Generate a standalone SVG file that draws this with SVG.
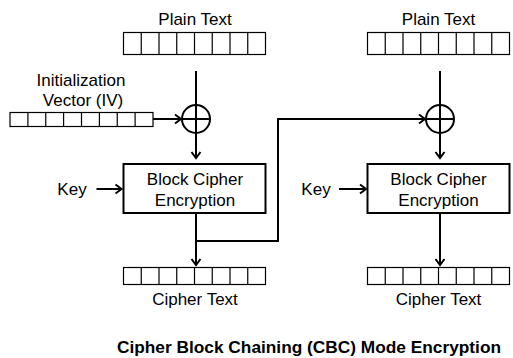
<svg xmlns="http://www.w3.org/2000/svg" width="513" height="358" viewBox="0 0 513 358">
<defs>
<style>
text{font-family:"Liberation Sans",Arial,sans-serif;font-size:17px;fill:#000;text-anchor:middle}
.title{font-weight:bold;font-size:17.3px}
.cell{fill:#fff;stroke:#000;stroke-width:1.2}
.box{fill:#fff;stroke:#000;stroke-width:2}
.wire{fill:none;stroke:#000;stroke-width:2}
</style>
<marker id="arr" markerUnits="userSpaceOnUse" markerWidth="12" markerHeight="12" viewBox="-8 -6 10 12" refX="0" refY="0" orient="auto">
<path d="M-6,-4.5 L0,0 L-6,4.5" fill="none" stroke="#000" stroke-width="2"/>
</marker>
</defs>
<rect width="513" height="358" fill="#fff"/>

<g id="pt1">
<text x="195" y="25">Plain Text</text>
<g transform="translate(123.5,32.5)">
<rect class="cell" x="0" y="0" width="142" height="22"/>
<path d="M17.75,0v22M35.5,0v22M53.25,0v22M71,0v22M88.75,0v22M106.5,0v22M124.25,0v22" stroke="#000" stroke-width="1.2"/>
</g>
</g>

<g id="pt2">
<text x="438.5" y="25">Plain Text</text>
<g transform="translate(367.5,32.5)">
<rect class="cell" x="0" y="0" width="142" height="22"/>
<path d="M17.75,0v22M35.5,0v22M53.25,0v22M71,0v22M88.75,0v22M106.5,0v22M124.25,0v22" stroke="#000" stroke-width="1.2"/>
</g>
</g>

<g id="iv">
<text x="81" y="86">Initialization</text>
<text x="83" y="106">Vector (IV)</text>
<g transform="translate(10,112.5)">
<rect class="cell" x="0" y="0" width="143" height="14"/>
<path d="M17.9,0v14M35.75,0v14M53.6,0v14M71.5,0v14M89.4,0v14M107.25,0v14M125.1,0v14" stroke="#000" stroke-width="1.2"/>
</g>
</g>

<g id="xor1">
<circle class="wire" cx="196" cy="119" r="14"/>
</g>
<g id="xor2">
<circle class="wire" cx="440" cy="119" r="14"/>
</g>

<g id="enc1">
<rect class="box" x="123.5" y="164" width="142" height="49"/>
<text x="195" y="185">Block Cipher</text>
<text x="195" y="205.5">Encryption</text>
</g>
<g id="enc2">
<rect class="box" x="367.5" y="164" width="142" height="49"/>
<text x="438.5" y="185">Block Cipher</text>
<text x="438.5" y="205.5">Encryption</text>
</g>

<g id="key1"><text x="72" y="195">Key</text></g>
<g id="key2"><text x="316" y="195">Key</text></g>

<g id="ct1">
<g transform="translate(123.5,267.5)">
<rect class="cell" x="0" y="0" width="142" height="17"/>
<path d="M17.75,0v17M35.5,0v17M53.25,0v17M71,0v17M88.75,0v17M106.5,0v17M124.25,0v17" stroke="#000" stroke-width="1.2"/>
</g>
<text x="195" y="305">Cipher Text</text>
</g>
<g id="ct2">
<g transform="translate(367.5,267.5)">
<rect class="cell" x="0" y="0" width="142" height="17"/>
<path d="M17.75,0v17M35.5,0v17M53.25,0v17M71,0v17M88.75,0v17M106.5,0v17M124.25,0v17" stroke="#000" stroke-width="1.2"/>
</g>
<text x="438.5" y="305">Cipher Text</text>
</g>

<g id="connectors">
<path class="wire" d="M196,71 V158" marker-end="url(#arr)"/>
<path class="wire" d="M182,119 H210"/>
<path class="wire" d="M153,119 H181" marker-end="url(#arr)"/>
<path class="wire" d="M440,71 V158" marker-end="url(#arr)"/>
<path class="wire" d="M426,119 H454"/>
<path class="wire" d="M96.5,189 H121.5" marker-end="url(#arr)"/>
<path class="wire" d="M339,189 H366" marker-end="url(#arr)"/>
<path class="wire" d="M196,213 V265" marker-end="url(#arr)"/>
<path class="wire" d="M196,241 H278 V119 H425" marker-end="url(#arr)"/>
<path class="wire" d="M440,213 V265" marker-end="url(#arr)"/>
</g>

<text class="title" x="309" y="353">Cipher Block Chaining (CBC) Mode Encryption</text>
</svg>
